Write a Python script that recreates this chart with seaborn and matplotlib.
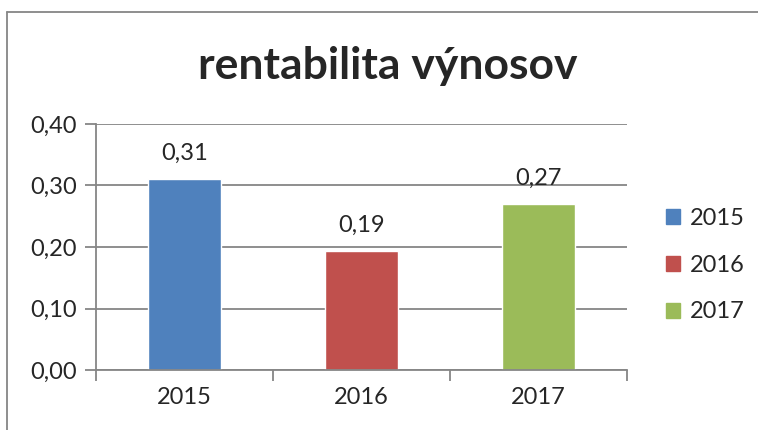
import matplotlib
matplotlib.use("Agg")
import matplotlib.pyplot as plt
import matplotlib.ticker as mticker
from matplotlib.patches import Rectangle
from matplotlib.lines import Line2D
import seaborn as sns
import pandas as pd

# data
roky = ["2015", "2016", "2017"]
hodnoty = [0.31, 0.193, 0.27]
farby = ["#4F81BD", "#C0504D", "#9BBB59"]

df = pd.DataFrame({"rok": roky, "hodnota": hodnoty})

sns.set_style("white")
plt.rcParams["font.family"] = ["Lato", "DejaVu Sans"]

fig = plt.figure(figsize=(7.58, 4.30), dpi=100)
ax = fig.add_axes([96 / 758, 1 - 370 / 430, (627 - 96) / 758, (370 - 124) / 430])

sns.barplot(data=df, x="rok", y="hodnota", hue="rok", palette=farby,
            dodge=False, width=0.41, ax=ax, legend=False, saturation=1)

ax.set_ylim(0, 0.40)
ax.set_xlim(-0.5, 2.5)
ax.yaxis.set_major_locator(mticker.MultipleLocator(0.10))
ax.yaxis.set_major_formatter(mticker.FuncFormatter(lambda v, p: f"{v:.2f}".replace(".", ",")))
ax.grid(axis="y", color="#868686", linewidth=1.3)
ax.set_axisbelow(True)
ax.set_xlabel("")
ax.set_ylabel("")

for s in ["top", "right"]:
    ax.spines[s].set_visible(False)
for s in ["left", "bottom"]:
    ax.spines[s].set_color("#868686")
    ax.spines[s].set_linewidth(1.3)

ax.tick_params(axis="y", labelsize=17, length=8, width=1.3, color="#868686", pad=6, left=True)
ax.tick_params(axis="x", labelsize=17, length=0, pad=12)
# hranice kategorii
ax.set_xticks([-0.5, 0.5, 1.5, 2.5], minor=True)
ax.tick_params(axis="x", which="minor", length=8, width=1.3, color="#868686", bottom=True)

for cont in ax.containers:
    ax.bar_label(cont, labels=[f"{b.get_height():.2f}".replace(".", ",") for b in cont],
                 padding=11, fontsize=17)

fig.text(388 / 758, 1 - 66 / 430, "rentabilita výnosov", ha="center", va="center",
         fontsize=32, fontweight="bold")

handles = [Rectangle((0, 0), 1, 1, color=c) for c in farby]
fig.legend(handles, roky, loc="center left", bbox_to_anchor=(645 / 758, 1 - 265 / 430),
           frameon=False, fontsize=17, handlelength=0.6, handleheight=0.6,
           handletextpad=0.4, labelspacing=1.1)

# ramik grafu
fig.add_artist(Line2D([7 / 758, 7 / 758], [0, 1 - 12 / 430], transform=fig.transFigure,
                      color="#868686", linewidth=1.3))
fig.add_artist(Line2D([7 / 758, 1.05], [1 - 12 / 430, 1 - 12 / 430], transform=fig.transFigure,
                      color="#868686", linewidth=1.3))

fig.savefig("out.png", dpi=100)
